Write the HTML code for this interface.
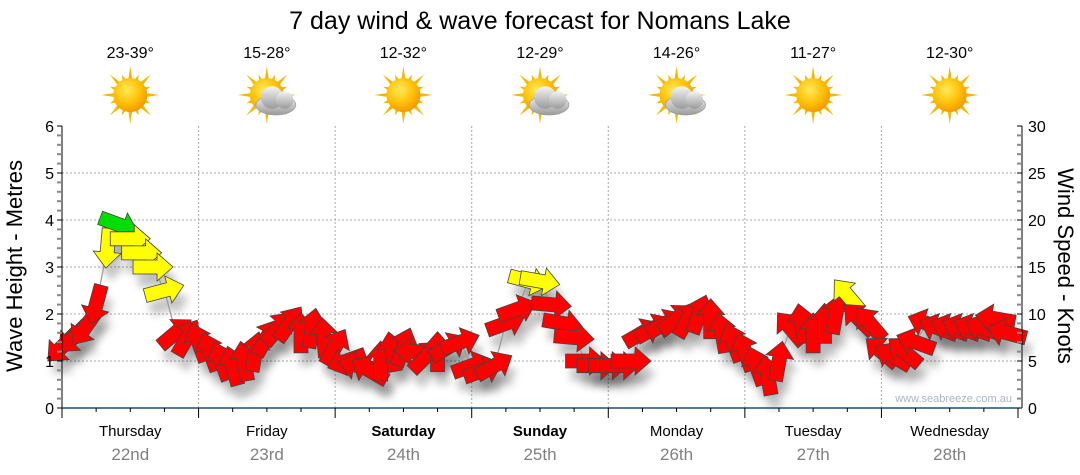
<!DOCTYPE html>
<html><head><meta charset="utf-8"><style>
body{margin:0;background:#fff;}
svg{display:block;font-family:"Liberation Sans",sans-serif;}
</style></head><body>
<svg id="chart" width="1080" height="475" viewBox="0 0 1080 475">
<defs>
<filter id="shadow" x="-50%" y="-50%" width="200%" height="250%"><feGaussianBlur stdDeviation="4"/></filter>
<radialGradient id="sung" cx="40%" cy="35%" r="65%"><stop offset="0" stop-color="#ffe95a"/><stop offset="0.6" stop-color="#ffc107"/><stop offset="1" stop-color="#f39a00"/></radialGradient>
<linearGradient id="cloudg" x1="0" y1="0" x2="0" y2="1"><stop offset="0" stop-color="#f4f4f4"/><stop offset="1" stop-color="#9a9a9a"/></linearGradient>
</defs>
<text x="540" y="29" text-anchor="middle" font-size="25">7 day wind &amp; wave forecast for Nomans Lake</text>
<g id="grid"></g>
<g id="shadows"></g>
<g id="series"></g>
<g id="axes"></g>
<g id="days"></g>
<text transform="translate(22,266) rotate(-90)" text-anchor="middle" font-size="22">Wave Height - Metres</text>
<text transform="translate(1058,266) rotate(90)" text-anchor="middle" font-size="22">Wind Speed - Knots</text>
<text x="1012" y="402" text-anchor="end" font-size="11" fill="#aab4c4">www.seabreeze.com.au</text>
</svg>
<script>
const dayNames=["Thursday","Friday","Saturday","Sunday","Monday","Tuesday","Wednesday"];
const dayDates=["22nd","23rd","24th","25th","26th","27th","28th"];
const boldDays=[false,false,true,true,false,false,false];
const temps=["23-39°","15-28°","12-32°","12-29°","14-26°","11-27°","12-30°"];
const cloudy=[false,true,false,true,true,false,false];
const leftTicks=["0","1","2","3","4","5","6"];
const rightTicks=["0","5","10","15","20","25","30"];
// wind speed (knots) every 2 hours
const windSpeed=[6.5,7.5,8.5,11,17,19.5,18,16.5,15,12.5,8,7.5,
7,6,5,4.5,5,6,7.5,8.5,9,8,8.5,7.5,
6.5,5,4.5,4,5,6,6.5,6,5.5,6,6.5,7,
4.5,4,4.5,9,10.5,13.5,13.5,11,9,7.5,5,4.5,
4.5,4.5,5,8,8.5,9,9.5,9.5,10,9.5,8,7,
6,4.5,3.5,5,8.5,9,8,9,10,12,9.5,9,
6,5.5,6,7,9,8.5,8.5,8.5,8.5,8.5,9.5,8];
// arrow direction (degrees, 0=right, 90=up)
const windDir=[225,225,235,255,265,-20,0,0,0,15,40,60,
110,110,110,105,100,80,60,50,55,90,80,95,
60,200,170,150,90,100,70,180,45,90,30,20,
20,20,30,20,20,-15,-10,-5,-10,-5,0,0,
0,0,0,30,30,30,40,60,70,90,100,110,
110,110,100,80,130,100,90,90,80,130,135,130,
140,150,140,160,160,160,160,160,160,160,170,165];
const stepHours=2;

const NS="http://www.w3.org/2000/svg";
const X0=62,X1=1018,Y0=408,Y6=126;
const hoursTotal=168;
const xs=h=>X0+(X1-X0)*h/hoursTotal;
const ym=m=>Y0-(Y0-Y6)*m/6;
const yk=k=>ym(k/5);
function mk(tag,attrs,parent){const e=document.createElementNS(NS,tag);for(const k in attrs)e.setAttribute(k,attrs[k]);parent.appendChild(e);return e;}
const grid=document.getElementById('grid'),axes=document.getElementById('axes'),days=document.getElementById('days');
const series=document.getElementById('series'),shadows=document.getElementById('shadows');
for(let i=1;i<=5;i++){const l=mk('line',{x1:X0,x2:X1,y1:ym(i),y2:ym(i),stroke:'#aaa','stroke-dasharray':'2,2'},grid);
}
for(let d=1;d<7;d++){const x=xs(d*24);const l=mk('line',{x1:x,x2:x,y1:Y6,y2:Y0,stroke:'#aaa','stroke-dasharray':'2,2'},grid);
}
mk('line',{x1:X0,x2:X0,y1:Y6,y2:Y0,stroke:'#000'},axes);
for(let i=0;i<=30;i++){const y=ym(i/5);const maj=i%5==0;mk('line',{x1:X0-5,x2:X0,y1:y,y2:y,stroke:maj?'#000':'#888','stroke-width':maj?1:2},axes);}
leftTicks.forEach((t,i)=>{const e=mk('text',{x:X0-8,y:ym(i)+6,'text-anchor':'end','font-size':16},axes);e.textContent=t;
});
const XR=1022;
mk('line',{x1:XR,x2:XR,y1:Y6,y2:Y0,stroke:'#000'},axes);
for(let i=0;i<=30;i++){const y=yk(i);const maj=i%5==0;mk('line',{x1:XR-5,x2:XR,y1:y,y2:y,stroke:maj?'#000':'#888','stroke-width':maj?1:2},axes);}
rightTicks.forEach((t,i)=>{const e=mk('text',{x:XR+6,y:yk(i*5)+6,'font-size':16},axes);e.textContent=t;
});
mk('line',{x1:X0,x2:XR,y1:Y0,y2:Y0,stroke:'#1a4e7a','stroke-width':1.5},axes);
for(let h=0;h<=168;h+=6){const x=xs(h);const maj=h%24==0;mk('line',{x1:x,x2:x,y1:Y0,y2:Y0+(maj?10:4),stroke:'#000'},axes);}
dayNames.forEach((n,d)=>{const cx=xs(d*24+12);
const t=mk('text',{x:cx,y:436,'text-anchor':'middle','font-size':15,'font-weight':boldDays[d]?'bold':'normal'},days);t.textContent=n;

const dt=mk('text',{x:cx,y:460,'text-anchor':'middle','font-size':17,fill:'#808080'},days);dt.textContent=dayDates[d];

const tp=mk('text',{x:cx,y:58,'text-anchor':'middle','font-size':16},days);tp.textContent=temps[d];

const g=mk('g',{transform:`translate(${cx},${95})`},days);

for(let r=0;r<16;r++){const a=r*Math.PI/8,L=r%2?22:29;const p=[[Math.cos(a)*L,Math.sin(a)*L],[Math.cos(a+0.14)*15,Math.sin(a+0.14)*15],[Math.cos(a-0.14)*15,Math.sin(a-0.14)*15]];
mk('polygon',{points:p.map(q=>q.join(',')).join(' '),fill:'#f5b800'},g);}
mk('circle',{cx:0,cy:0,r:17,fill:'url(#sung)'},g);
if(cloudy[d]){const c=mk('g',{transform:'translate(9,5) scale(1.25)'},g);
mk('ellipse',{cx:0,cy:4,rx:16,ry:8,fill:'url(#cloudg)',stroke:'#999','stroke-width':0.5},c);
mk('circle',{cx:-3,cy:-2,r:9,fill:'url(#cloudg)'},c);mk('circle',{cx:7,cy:0,r:7,fill:'url(#cloudg)'},c);}
});
const pts=windSpeed.map((k,i)=>[xs(i*stepHours),yk(k)]);
const pl=mk('polyline',{points:pts.map(p=>p.join(',')).join(' '),fill:'none',stroke:'#999','stroke-width':1.2},series);

const shape=[[-20,-7],[4,-7],[4,-14],[20,0],[4,14],[4,7],[-20,7]];
windSpeed.forEach((k,i)=>{const [x,y]=pts[i];const a=-windDir[i];
const col=k>=19?'#00dd00':(k>=12?'#ffff00':'#ff0000');
const sh=mk('polygon',{points:shape.map(p=>p.join(',')).join(' '),fill:'#000','fill-opacity':0.22,filter:'url(#shadow)',transform:`translate(${x+5},${y+13}) rotate(${a})`},shadows);

const ar=mk('polygon',{points:shape.map(p=>p.join(',')).join(' '),fill:col,stroke:'#444','stroke-width':0.8,transform:`translate(${x},${y}) rotate(${a})`},series);

});
</script>
</body></html>
